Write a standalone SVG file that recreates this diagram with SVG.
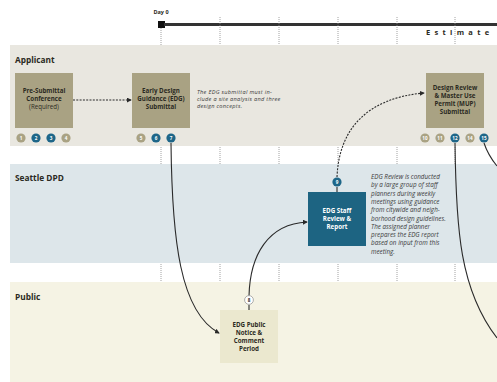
<svg xmlns="http://www.w3.org/2000/svg" width="497" height="382" viewBox="0 0 497 382">
<style>
text{font-family:"Open Sans","Liberation Sans",sans-serif;fill:#2b2a22}
.lane{font-size:8.3px;font-weight:bold}
.nt{font-size:6.2px;font-weight:bold;text-anchor:middle}
.nw{font-size:6.2px;font-weight:bold;text-anchor:middle;fill:#ffffff}
.note{font-size:6.3px;font-style:italic;fill:#3a3a3a}
.note2{font-size:5.6px;font-style:italic;fill:#3a3a3a;letter-spacing:0.3px}
.bt{font-size:4.6px;font-weight:bold;text-anchor:middle;fill:#ffffff}
.kh{fill:#a9a283}
.bl{fill:#1e6688}
.tick{stroke:#8a8a8a;stroke-width:0.8;stroke-dasharray:1,1}
.solid{fill:none;stroke:#2a2a2a;stroke-width:1.1}
.dash{fill:none;stroke:#2a2a2a;stroke-width:1.1;stroke-dasharray:2,1.3}
</style>
<defs>
<marker id="ah" viewBox="0 0 6 6" refX="5" refY="3" markerWidth="5" markerHeight="5" orient="auto" markerUnits="userSpaceOnUse">
<path d="M0,0 L6,3 L0,6 Z" fill="#2a2a2a"/>
</marker>
</defs>
<rect width="497" height="382" fill="#ffffff"/>
<!-- lanes -->
<rect x="10" y="45" width="487" height="101" fill="#e9e7e0"/>
<rect x="10" y="164" width="487" height="99" fill="#dde6ea"/>
<rect x="10" y="282" width="487" height="100" fill="#f5f3e4"/>
<text class="lane" x="15" y="63">Applicant</text>
<text class="lane" x="15" y="181">Seattle DPD</text>
<text class="lane" x="15" y="300">Public</text>
<!-- timeline -->
<g id="timeline">
<text x="161" y="14" style="font-size:5.5px;font-weight:bold;text-anchor:middle">Day 0</text>
<rect x="158" y="21" width="7" height="7" fill="#111"/>
<line x1="164" y1="24.5" x2="497" y2="24.5" stroke="#333" stroke-width="2.8"/>
<text x="426" y="35" style="font-size:7.5px;font-weight:bold;letter-spacing:4.3px">Estimate</text>
<line class="tick" x1="161" y1="28" x2="161" y2="45"/>
<line class="tick" x1="220" y1="17" x2="220" y2="45"/>
<line class="tick" x1="279" y1="17" x2="279" y2="45"/>
<line class="tick" x1="338" y1="17" x2="338" y2="45"/>
<line class="tick" x1="397" y1="17" x2="397" y2="45"/>
<line class="tick" x1="455" y1="17" x2="455" y2="45"/>
<line class="tick" x1="161" y1="147" x2="161" y2="164"/>
<line class="tick" x1="220" y1="147" x2="220" y2="164"/>
<line class="tick" x1="279" y1="147" x2="279" y2="164"/>
<line class="tick" x1="338" y1="147" x2="338" y2="164"/>
<line class="tick" x1="397" y1="147" x2="397" y2="164"/>
<line class="tick" x1="455" y1="147" x2="455" y2="164"/>
<line class="tick" x1="161" y1="264" x2="161" y2="282"/>
<line class="tick" x1="220" y1="264" x2="220" y2="282"/>
<line class="tick" x1="279" y1="264" x2="279" y2="282"/>
<line class="tick" x1="338" y1="264" x2="338" y2="282"/>
<line class="tick" x1="397" y1="264" x2="397" y2="282"/>
<line class="tick" x1="455" y1="264" x2="455" y2="282"/>
</g>
<!-- connectors -->
<g id="connectors">
<path class="dash" d="M73,100 L131,100" marker-end="url(#ah)"/>
<path class="dash" d="M337,177 C339,128 368,98 424,93" marker-end="url(#ah)"/>
<path class="solid" d="M171,143 C172,240 180,312 219,333" marker-end="url(#ah)"/>
<path class="solid" d="M249,296 C250,255 268,224 307,222" marker-end="url(#ah)"/>
<path class="solid" d="M337,187 L337,192"/>
<path class="solid" d="M249,305 L249,310"/>
<path class="solid" d="M455,143 C456,230 460,290 497,338"/>
<path class="solid" d="M484,143 C487,152 492,160 497,166"/>
</g>
<!-- nodes -->
<g id="pre-submittal">
<rect x="15" y="73" width="58" height="55" class="kh"/>
<text class="nt" x="44" y="93">Pre-Submittal</text>
<text class="nt" x="44" y="101">Conference</text>
<text class="nt" x="44" y="109" style="font-weight:normal">(Required)</text>
<circle cx="21" cy="138" r="4.6" class="kh"/><text class="bt" x="21" y="139.7">1</text>
<circle cx="36" cy="138" r="4.6" class="bl"/><text class="bt" x="36" y="139.7">2</text>
<circle cx="51" cy="138" r="4.6" class="bl"/><text class="bt" x="51" y="139.7">3</text>
<circle cx="66" cy="138" r="4.6" class="kh"/><text class="bt" x="66" y="139.7">4</text>
</g>
<g id="edg-submittal">
<rect x="132" y="73" width="58" height="55" class="kh"/>
<text class="nt" x="161" y="93">Early Design</text>
<text class="nt" x="161" y="101">Guidance (EDG)</text>
<text class="nt" x="161" y="109">Submittal</text>
<circle cx="141" cy="138" r="4.6" class="kh"/><text class="bt" x="141" y="139.7">5</text>
<circle cx="156" cy="138" r="4.6" class="bl"/><text class="bt" x="156" y="139.7">6</text>
<circle cx="171" cy="138" r="4.6" class="bl"/><text class="bt" x="171" y="139.7">7</text>
<text class="note2" x="197" y="93.5">The EDG submittal must in-</text>
<text class="note2" x="197" y="100.8">clude a site analysis and three</text>
<text class="note2" x="197" y="108">design concepts.</text>
</g>
<g id="mup-submittal">
<rect x="426" y="73" width="58" height="55" class="kh"/>
<text class="nt" x="455" y="90">Design Review</text>
<text class="nt" x="455" y="98">&amp; Master Use</text>
<text class="nt" x="455" y="106">Permit (MUP)</text>
<text class="nt" x="455" y="114">Submittal</text>
<circle cx="425" cy="138" r="4.6" class="kh"/><text class="bt" x="425" y="139.7">10</text>
<circle cx="440" cy="138" r="4.6" class="kh"/><text class="bt" x="440" y="139.7">11</text>
<circle cx="455" cy="138" r="4.6" class="bl"/><text class="bt" x="455" y="139.7">12</text>
<circle cx="470" cy="138" r="4.6" class="kh"/><text class="bt" x="470" y="139.7">14</text>
<circle cx="484" cy="138" r="4.6" class="bl"/><text class="bt" x="484" y="139.7">15</text>
</g>
<g id="edg-staff-review">
<rect x="308" y="192" width="58" height="54" fill="#1d6482"/>
<text class="nw" x="337" y="213">EDG Staff</text>
<text class="nw" x="337" y="221">Review &amp;</text>
<text class="nw" x="337" y="229">Report</text>
<circle cx="337" cy="182" r="4.6" class="bl"/><text class="bt" x="337" y="183.7">9</text>
<text class="note" x="371" y="179">EDG Review is conducted</text>
<text class="note" x="371" y="187.3">by a large group of staff</text>
<text class="note" x="371" y="195.6">planners during weekly</text>
<text class="note" x="371" y="203.9">meetings using guidance</text>
<text class="note" x="371" y="212.2">from citywide and neigh-</text>
<text class="note" x="371" y="220.5">borhood design guidelines.</text>
<text class="note" x="371" y="228.8">The assigned planner</text>
<text class="note" x="371" y="237.1">prepares the EDG report</text>
<text class="note" x="371" y="245.4">based on input from this</text>
<text class="note" x="371" y="253.7">meeting.</text>
</g>
<g id="edg-public-notice">
<rect x="220" y="310" width="58" height="53" fill="#ebe8cf"/>
<text class="nt" x="249" y="327">EDG Public</text>
<text class="nt" x="249" y="335">Notice &amp;</text>
<text class="nt" x="249" y="343">Comment</text>
<text class="nt" x="249" y="351">Period</text>
<circle cx="249" cy="300" r="4.4" fill="#ffffff" stroke="#9a9a9a" stroke-width="0.8"/>
<text class="bt" x="249" y="301.7" style="fill:#333">8</text>
</g>
</svg>
